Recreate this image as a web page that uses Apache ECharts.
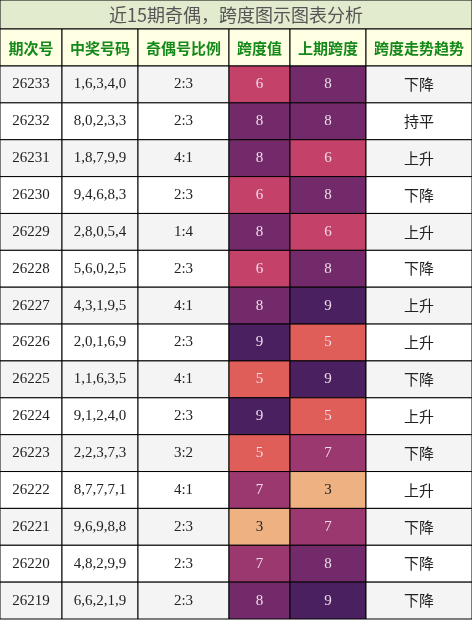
<!DOCTYPE html><html><head><meta charset="utf-8"><script src="https://cdn.jsdelivr.net/npm/echarts@6/dist/echarts.min.js"></script>
<style>html,body{margin:0;padding:0;background:#fff}#c{width:472px;height:622px}</style></head><body><div id="c"></div>
<script>
const headers=['期次号','中奖号码','奇偶号比例','跨度值','上期跨度','跨度走势趋势'];
const periods=['26233','26232','26231','26230','26229','26228','26227','26226','26225','26224','26223','26222','26221','26220','26219'];
const numbers=['1,6,3,4,0','8,0,2,3,3','1,8,7,9,9','9,4,6,8,3','2,8,0,5,4','5,6,0,2,5','4,3,1,9,5','2,0,1,6,9','1,1,6,3,5','9,1,2,4,0','2,2,3,7,3','8,7,7,7,1','9,6,9,8,8','4,8,2,9,9','6,6,2,1,9'];
const ratios=['2:3','2:3','4:1','2:3','1:4','2:3','4:1','2:3','4:1','2:3','3:2','4:1','2:3','2:3','2:3'];
const spans=[6,8,8,6,8,6,8,9,5,9,5,7,3,7,8];
const prevSpans=[8,8,6,8,6,8,9,5,9,5,7,3,7,8,9];
const trends=['下降','持平','上升','下降','上升','下降','上升','上升','下降','上升','下降','上升','下降','下降','下降'];
const colEdges=[0,62,138,229,290,366,472];
const spanColors={3:'#eeb282',5:'#e05e5a',6:'#c4426a',7:'#9c3870',8:'#722a6b',9:'#4b2060'};
const data=[];
periods.forEach((p,r)=>{
  const vals=[p,numbers[r],ratios[r],spans[r],prevSpans[r],trends[r]];
  vals.forEach((v,c)=>data.push([colEdges[c],colEdges[c+1],r,v,c]));
});
const chart=echarts.init(document.getElementById('c'));
chart.setOption({
  animation:false,
  graphic:[
    {type:'rect',shape:{x:0,y:0,width:472,height:29},style:{fill:'#e3ebcf',stroke:'#000',lineWidth:1}},
    {type:'text',x:236,y:15,style:{text:'近15期奇偶，跨度图示图表分析',fill:'#555',font:'18px "Noto Sans CJK SC"',align:'center',verticalAlign:'middle'}},
    ...headers.map((h,i)=>({type:'group',children:[
      {type:'rect',shape:{x:colEdges[i],y:29,width:colEdges[i+1]-colEdges[i],height:37},style:{fill:'#ffffe3',stroke:'#000',lineWidth:1}},
      {type:'text',x:(colEdges[i]+colEdges[i+1])/2,y:48,style:{text:h,fill:'#14891a',font:'bold 15px "Noto Sans CJK SC"',align:'center',verticalAlign:'middle'}}
    ]}))
  ],
  grid:{left:0,right:0,top:66,bottom:3},
  xAxis:{type:'value',min:0,max:472,show:false},
  yAxis:{type:'category',data:periods,inverse:true,show:false},
  series:[{type:'custom',data:data,renderItem:(params,api)=>{
    const x0=api.value(0),x1=api.value(1),r=api.value(2),c=api.value(4);
    const v=data[params.dataIndex][3];
    const p0=api.coord([x0,r]),p1=api.coord([x1,r]);
    const h=api.size([0,1])[1];
    let fill=r%2===0?'#f4f4f4':'#ffffff',tc='#222',font='15px "Liberation Serif"';
    if(c===3||c===4){fill=spanColors[v];tc=v===3?'#222':'#eedde8';}
    if(c===5)font='15px "Noto Sans CJK SC"';
    return {type:'group',children:[
      {type:'rect',shape:{x:p0[0],y:p0[1]-h/2,width:p1[0]-p0[0],height:h},style:{fill:fill,stroke:'#000',lineWidth:1}},
      {type:'text',x:(p0[0]+p1[0])/2,y:p0[1],style:{text:String(v),fill:tc,font:font,align:'center',verticalAlign:'middle'}}
    ]};
  }}]
});
</script></body></html>
